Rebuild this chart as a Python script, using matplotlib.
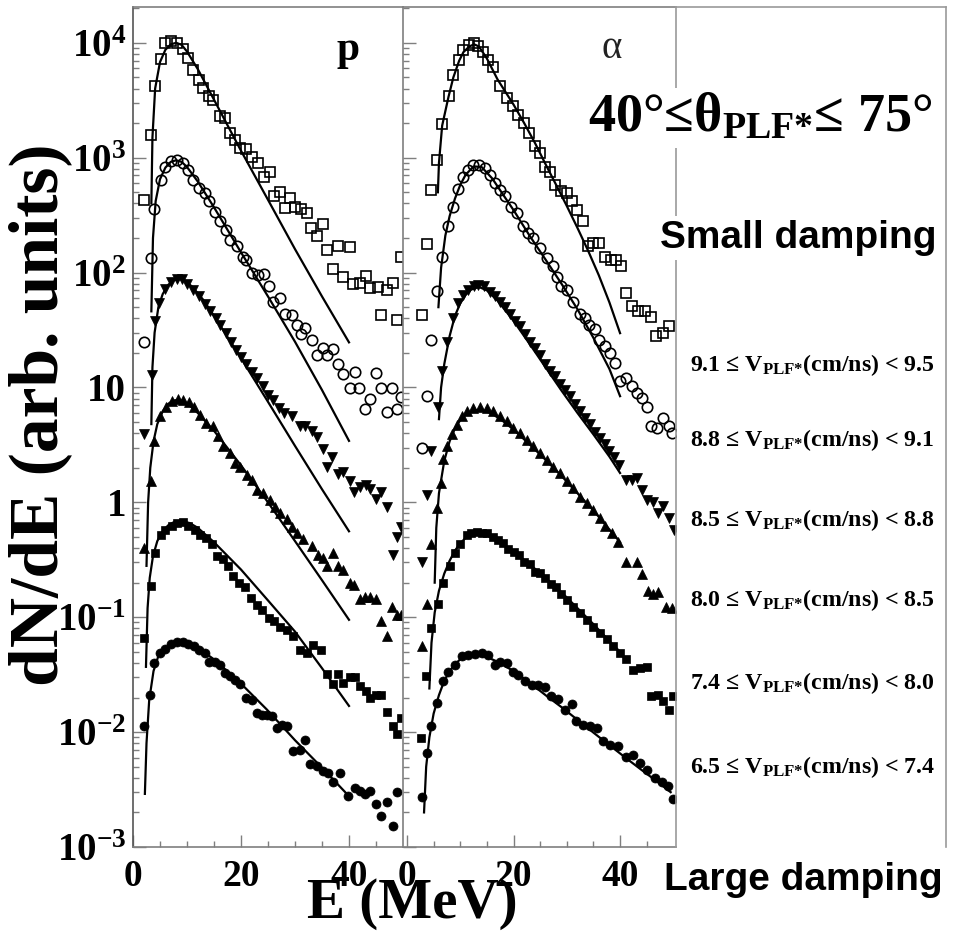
import numpy as np
import matplotlib
matplotlib.use('Agg')
import matplotlib.pyplot as plt
from matplotlib.ticker import FixedLocator, FixedFormatter, NullFormatter

plt.rcParams['font.family'] = ['Liberation Serif', 'DejaVu Serif']
plt.rcParams['font.weight'] = 'bold'
plt.rcParams['mathtext.fontset'] = 'custom'
plt.rcParams['mathtext.rm'] = 'Liberation Serif:bold'
plt.rcParams['mathtext.bf'] = 'Liberation Serif:bold'
plt.rcParams['mathtext.it'] = 'Liberation Serif:italic:bold'

# ---------------- protons (left panel) ----------------
p_sq_E = [2.0, 3.3, 4.1, 5.2, 5.9, 7.0, 8.1, 9.2, 10.2, 11.2, 12.3, 13.0, 14.1, 14.9, 16.1, 17.0, 18.0, 18.9, 19.8, 21.0,
          22.1, 23.2, 24.3, 25.4, 26.1, 27.2, 28.1, 29.1, 30.0, 31.1, 32.2, 33.0, 34.0, 35.1, 35.9, 37.0, 38.0, 38.9,
          40.2, 40.8, 42.0, 43.2, 43.9, 45.4, 45.9, 47.0, 48.1, 48.9, 49.6]
p_sq_y = [430, 1580, 4230, 7220, 9900, 10300, 10000, 8820, 7360, 5820, 4760, 4030, 3410, 3190, 2290, 2210, 1640, 1430,
          1210, 1180, 1020, 900, 686, 758, 460, 498, 364, 445, 376, 357, 330, 245, 208, 266, 158, 108, 171, 91, 167, 79,
          81, 93, 73, 75, 43, 70, 81, 38.5, 137]

p_ci_E = [2.0, 3.3, 3.9, 5.2, 6.0, 7.0, 8.1, 9.2, 10.2, 11.2, 12.3, 13.3, 14.1, 15.1, 16.1, 17.2, 18.0, 19.3, 20.4, 21.0,
          22.1, 23.2, 24.2, 25.1, 25.9, 27.2, 28.1, 29.4, 30.3, 31.1, 31.9, 33.1, 34.0, 35.1, 36.0, 37.0, 38.0, 38.8,
          40.1, 41.1, 41.9, 43.0, 43.9, 45.0, 45.9, 47.0, 47.9, 48.9, 49.7]
p_ci_y = [25, 134, 357, 643, 838, 940, 960, 897, 785, 643, 544, 492, 416, 340, 279, 236, 193, 169, 138, 129, 100, 96,
          97, 76, 55, 60, 44, 43, 35, 29, 33, 26, 19, 22, 19, 21.5, 16, 13, 9.8, 13.7, 9.8, 6.5, 8.0, 13.3, 9.8, 6.1,
          9.8, 6.5, 8.3]

p_dn_E = [2.0, 3.5, 4.1, 4.9, 6.0, 7.0, 8.1, 9.0, 10.0, 11.2, 12.3, 13.3, 14.3, 15.3, 16.2, 17.2, 18.1, 19.1, 20.0, 21.0,
          22.0, 23.0, 24.0, 25.0, 26.0, 27.0, 28.0, 29.4, 30.9, 31.9, 33.1, 34.0, 35.1, 35.9, 36.8, 38.0, 38.9, 40.1,
          40.9, 42.0, 43.1, 43.9, 45.0, 45.9, 47.0, 48.1, 48.9, 49.7]
p_dn_y = [3.9, 12.9, 38, 54, 72, 82, 88, 88, 80, 70, 62, 53, 46, 40, 35, 30, 25, 21, 18.5, 16, 13.5, 12, 10.3, 8.6, 7.8,
          6.6, 6.0, 5.7, 4.6, 4.6, 4.2, 3.7, 2.9, 2.04, 2.5, 1.78, 1.84, 1.54, 1.23, 1.36, 1.42, 1.31, 1.07, 1.23,
          0.91, 0.35, 0.5, 0.61]

p_up_E = [2.0, 3.3, 3.9, 5.0, 6.1, 7.2, 8.4, 9.3, 10.4, 11.3, 12.4, 13.6, 14.9, 15.8, 16.7, 18.0, 18.9, 19.8, 21.1, 22.0,
          22.9, 24.1, 25.4, 26.3, 27.2, 28.5, 29.4, 30.3, 31.5, 33.1, 34.3, 35.1, 36.0, 37.0, 38.0, 38.9, 40.1, 40.9,
          42.0, 43.0, 43.9, 45.0, 45.9, 47.0, 47.9, 48.9, 49.7]
p_up_y = [0.4, 1.52, 3.4, 5.6, 6.8, 7.6, 7.9, 7.8, 7.5, 6.7, 5.8, 4.9, 4.6, 3.75, 3.07, 2.69, 2.2, 2.05, 1.74, 1.57,
          1.29, 1.2, 1.05, 0.92, 0.81, 0.71, 0.61, 0.54, 0.48, 0.42, 0.35, 0.33, 0.28, 0.36, 0.28, 0.26, 0.197, 0.19,
          0.143, 0.149, 0.149, 0.143, 0.092, 0.069, 0.122, 0.104, 0.104]

p_fsq_E = [2.0, 3.3, 4.1, 5.2, 6.0, 7.2, 8.2, 9.2, 10.2, 11.4, 12.4, 13.5, 14.6, 15.5, 16.6, 17.6, 18.6, 19.7, 20.7,
           21.8, 22.9, 23.8, 25.1, 26.1, 27.2, 28.5, 29.7, 30.9, 32.2, 33.4, 34.9, 36.0, 37.0, 38.0, 38.9, 40.1, 41.1,
           42.0, 43.1, 43.9, 45.0, 45.9, 47.0, 48.1, 48.9, 49.7]
p_fsq_y = [0.066, 0.188, 0.36, 0.52, 0.57, 0.62, 0.66, 0.67, 0.62, 0.57, 0.52, 0.49, 0.43, 0.34, 0.32, 0.28, 0.23, 0.2,
           0.185, 0.147, 0.128, 0.116, 0.098, 0.092, 0.083, 0.078, 0.068, 0.052, 0.049, 0.057, 0.052, 0.032, 0.026,
           0.032, 0.027, 0.030, 0.030, 0.025, 0.023, 0.020, 0.021, 0.021, 0.015, 0.0113, 0.0096, 0.0133]

p_fci_E = [2.0, 3.1, 3.9, 5.0, 5.9, 7.0, 8.1, 9.2, 10.2, 11.3, 12.3, 13.3, 14.1, 15.2, 16.1, 17.0, 18.0, 18.9, 19.8,
           21.0, 22.0, 22.9, 23.8, 24.8, 25.7, 26.6, 27.5, 28.5, 29.7, 30.9, 31.9, 32.8, 34.0, 35.2, 36.2, 37.1, 38.3,
           39.9, 41.1, 42.0, 43.0, 43.9, 45.0, 45.9, 47.0, 48.1, 48.9]
p_fci_y = [0.0113, 0.021, 0.040, 0.049, 0.053, 0.058, 0.0605, 0.0605, 0.058, 0.056, 0.052, 0.049, 0.041, 0.041, 0.0386,
           0.0327, 0.0305, 0.0286, 0.026, 0.0198, 0.0192, 0.0147, 0.0142, 0.0142, 0.0138, 0.0109, 0.0116, 0.0113,
           0.0068, 0.0070, 0.0085, 0.0053, 0.0051, 0.0046, 0.0044, 0.0037, 0.0044, 0.0028, 0.00325, 0.0031, 0.0029,
           0.0031, 0.00236, 0.00185, 0.00245, 0.00153, 0.0030]

# fitted curves, protons
p_fit_sq_E = [3.4, 3.6, 4.1, 5.0, 6.0, 7.0, 8.0, 9.0, 10.0, 12.0, 15.0, 20.0, 25.0, 30.0, 35.0, 40.0]
p_fit_sq_y = [400, 1500, 4000, 6800, 8700, 9700, 10000, 9600, 8400, 5900, 3200, 1150, 430, 160, 62, 24.7]
p_fit_ci_E = [3.4, 3.7, 4.2, 5.0, 6.0, 7.0, 8.0, 9.0, 10.0, 12.0, 15.0, 20.0, 25.0, 30.0, 35.0, 40.0]
p_fit_ci_y = [46, 200, 420, 650, 820, 920, 950, 920, 830, 620, 370, 150, 62, 25, 9.5, 3.43]
p_fit_dn_E = [3.4, 3.6, 4.0, 4.7, 5.5, 6.5, 7.5, 8.5, 9.5, 11.0, 13.0, 15.0, 20.0, 25.0, 30.0, 35.0, 40.0]
p_fit_dn_y = [4.8, 15, 30, 50, 65, 78, 86, 88, 86, 75, 58, 42, 18, 7.5, 3.1, 1.3, 0.56]
p_fit_up_E = [2.5, 2.8, 3.2, 3.8, 4.5, 5.5, 6.5, 7.5, 8.5, 10.0, 12.0, 15.0, 20.0, 25.0, 30.0, 35.0, 40.0]
p_fit_up_y = [0.28, 1.0, 2.0, 3.4, 4.8, 6.2, 7.2, 7.7, 7.8, 7.3, 6.0, 4.2, 2.1, 1.0, 0.46, 0.21, 0.095]
p_fit_fsq_E = [2.4, 2.7, 3.1, 3.7, 4.5, 5.5, 6.5, 7.5, 9.0, 10.5, 12.0, 15.0, 20.0, 25.0, 30.0, 35.0, 40.0]
p_fit_fsq_y = [0.037, 0.12, 0.22, 0.34, 0.46, 0.56, 0.63, 0.67, 0.69, 0.66, 0.6, 0.45, 0.26, 0.14, 0.075, 0.036, 0.0169]
p_fit_fci_E = [2.2, 2.5, 3.0, 3.8, 4.7, 5.9, 7.5, 9.0, 10.5, 12.4, 15.0, 19.8, 24.8, 30.0, 35.0, 40.0]
p_fit_fci_y = [0.0029, 0.008, 0.019, 0.034, 0.046, 0.054, 0.060, 0.061, 0.059, 0.0525, 0.043, 0.027, 0.0157, 0.0085,
               0.0049, 0.00277]

# ---------------- alphas (right panel) ----------------
a_sq_E = [2.75, 3.7, 4.6, 5.7, 6.6, 7.8, 8.7, 9.8, 10.6, 11.7, 12.6, 13.4, 14.3, 15.3, 16.2, 17.4, 18.8, 19.9, 20.9,
          22.0, 22.9, 24.0, 25.0, 25.9, 26.8, 27.8, 29.0, 30.0, 30.9, 32.0, 33.0, 34.0, 35.0, 36.1, 37.1, 38.3, 39.3,
          40.2, 41.2, 42.2, 43.4, 44.7, 45.9, 46.8, 48.1, 49.2]
a_sq_y = [43, 176, 519, 946, 1970, 3410, 5260, 7110, 8700, 9610, 10000, 9420, 8400, 7110, 6220, 4170, 3300, 2830, 2360,
          2020, 1640, 1270, 1100, 838, 758, 581, 508, 492, 416, 352, 284, 169, 181, 181, 138, 129, 129, 113, 66, 51, 46,
          46, 41, 28, 30, 34]

a_ci_E = [2.75, 3.7, 4.6, 5.7, 6.6, 7.7, 8.7, 9.6, 10.6, 11.5, 12.4, 13.5, 14.6, 15.6, 16.5, 17.4, 18.4, 19.6, 20.6,
          21.8, 22.8, 23.7, 25.0, 26.2, 27.4, 28.2, 29.0, 30.0, 31.2, 32.5, 33.4, 34.2, 35.3, 36.1, 37.1, 38.1, 39.0,
          40.0, 41.2, 42.2, 43.2, 44.2, 45.1, 45.9, 47.0, 48.1, 49.2, 49.8]
a_ci_y = [3.0, 8.4, 26, 68.6, 138, 252, 376, 533, 686, 785, 867, 867, 811, 710, 608, 526, 460, 376, 330, 252, 221, 200,
          163, 134, 113, 92, 76, 71, 56, 44, 40, 35, 32, 26, 22.8, 20, 16.3, 11.3, 12.1, 10.2, 8.9, 8.1, 6.8, 4.6, 4.4,
          5.4, 4.6, 4.0]

a_dn_E = [2.75, 3.7, 4.6, 5.9, 6.6, 7.6, 8.6, 9.6, 10.6, 11.5, 12.5, 13.4, 14.5, 15.6, 16.5, 17.4, 18.4, 19.3, 20.3,
          21.2, 22.2, 23.1, 24.0, 25.0, 26.0, 26.8, 27.7, 28.7, 29.6, 30.6, 31.5, 32.5, 33.4, 34.3, 35.3, 36.2, 37.1,
          38.0, 38.9, 39.8, 41.2, 42.2, 43.1, 44.2, 45.1, 46.1, 47.1, 48.1, 49.2, 50.1]
a_dn_y = [0.3, 1.16, 2.8, 6.8, 13.8, 25, 40, 54, 64, 71, 76, 78, 76, 68, 63, 56, 50, 44, 38, 34, 29, 25, 22, 19, 16, 14,
          12.5, 10.8, 9.5, 8.4, 7.2, 6.3, 5.4, 4.8, 4.1, 3.6, 3.2, 2.8, 2.5, 2.1, 1.57, 1.57, 1.64, 1.29, 1.05, 1.01,
          0.81, 0.93, 0.73, 0.57]

a_up_E = [2.75, 3.7, 4.6, 5.6, 6.3, 6.8, 7.6, 8.4, 9.3, 10.3, 11.2, 12.4, 13.7, 15.0, 16.2, 17.4, 18.7, 19.9, 21.2,
          22.5, 23.7, 25.0, 26.2, 27.4, 28.7, 30.0, 31.2, 32.5, 33.7, 35.0, 36.2, 37.1, 38.4, 39.6, 41.2, 43.1, 44.2,
          45.3, 46.2, 47.1, 48.7, 49.7]
a_up_y = [0.056, 0.13, 0.43, 0.89, 1.47, 2.4, 3.07, 3.9, 4.7, 5.6, 6.2, 6.6, 6.8, 6.6, 6.2, 5.6, 5.1, 4.4, 4.0, 3.5,
          3.07, 2.7, 2.35, 2.05, 1.8, 1.52, 1.33, 1.12, 0.99, 0.86, 0.73, 0.62, 0.54, 0.45, 0.3, 0.3, 0.24, 0.17, 0.16,
          0.165, 0.124, 0.12]

a_fsq_E = [2.6, 3.6, 4.6, 5.9, 6.8, 8.1, 9.0, 9.9, 11.2, 12.1, 13.1, 14.0, 15.0, 16.2, 17.0, 18.0, 19.0, 20.0, 21.0,
           22.0, 23.0, 24.0, 25.0, 26.0, 27.0, 28.0, 29.0, 30.0, 31.2, 32.5, 33.7, 35.0, 36.2, 37.5, 38.7, 40.0, 41.2,
           42.5, 43.7, 45.1, 45.9, 47.1, 48.1, 49.2, 50.0]
a_fsq_y = [0.0089, 0.031, 0.08, 0.13, 0.2, 0.28, 0.36, 0.43, 0.52, 0.54, 0.55, 0.54, 0.54, 0.5, 0.47, 0.44, 0.39, 0.37,
           0.35, 0.30, 0.29, 0.25, 0.245, 0.22, 0.195, 0.185, 0.16, 0.14, 0.124, 0.109, 0.095, 0.083, 0.073, 0.064,
           0.056, 0.049, 0.043, 0.035, 0.036, 0.037, 0.0205, 0.021, 0.0185, 0.0157, 0.0205]

a_fci_E = [2.75, 3.7, 4.6, 5.7, 6.7, 7.7, 9.0, 10.3, 11.5, 12.8, 14.0, 15.3, 16.5, 17.4, 18.7, 19.9, 20.9, 22.1, 23.4,
           24.6, 25.9, 27.1, 28.4, 29.6, 30.9, 31.8, 33.1, 34.3, 35.6, 36.8, 38.1, 39.6, 41.2, 42.5, 43.7, 45.0, 46.5,
           47.8, 49.0, 50.0]
a_fci_y = [0.0027, 0.0066, 0.0112, 0.0179, 0.0277, 0.0337, 0.0386, 0.0456, 0.047, 0.048, 0.049, 0.047, 0.0386, 0.041,
           0.040, 0.0337, 0.0317, 0.0277, 0.0258, 0.0258, 0.0245, 0.0205, 0.0195, 0.0157, 0.0177, 0.0124, 0.0116,
           0.0112, 0.0109, 0.0083, 0.0077, 0.0076, 0.0061, 0.0063, 0.0054, 0.0047, 0.0040, 0.0037, 0.0034, 0.0026]

# fitted curves, alphas
a_fit_sq_E = [5.8, 6.0, 6.6, 7.8, 8.7, 9.8, 10.6, 11.7, 12.6, 13.5, 15.0, 17.0, 20.0, 22.0, 24.0, 26.0, 28.0, 30.0,
              32.0, 34.0, 36.0, 38.0, 40.0]
a_fit_sq_y = [500, 900, 1900, 3400, 5000, 7000, 8300, 9300, 9700, 9300, 7300, 4800, 2900, 2000, 1350, 880, 580, 380,
              245, 155, 95, 55, 29.7]
a_fit_ci_E = [5.9, 6.4, 7.2, 8.0, 9.0, 10.0, 11.0, 12.5, 14.0, 16.0, 18.0, 20.0, 23.0, 26.0, 29.0, 32.0, 35.0, 38.0, 40.0]
a_fit_ci_y = [50, 110, 210, 310, 440, 580, 710, 840, 830, 660, 480, 350, 210, 130, 80, 48, 27, 14.5, 8.4]
a_fit_dn_E = [6.0, 6.4, 7.0, 8.0, 9.0, 10.0, 11.0, 12.0, 13.5, 15.0, 17.0, 20.0, 23.0, 26.0, 29.0, 32.0, 35.0, 38.0, 40.0]
a_fit_dn_y = [5.3, 10, 16, 28, 42, 54, 64, 71, 75, 70, 57, 38, 24, 15, 9.4, 6.0, 3.9, 2.5, 1.8]
a_fit_up_E = [5.2, 5.5, 6.0, 7.0, 8.0, 9.0, 10.0, 11.0, 12.5, 14.0, 16.0, 18.0, 20.0, 23.0, 26.0, 29.0, 32.0, 35.0,
              38.0, 40.0]
a_fit_up_y = [0.2, 0.6, 1.2, 2.3, 3.4, 4.4, 5.2, 5.8, 6.3, 6.4, 5.9, 5.1, 4.3, 3.2, 2.35, 1.7, 1.2, 0.85, 0.58, 0.45]
a_fit_fsq_E = [4.2, 4.6, 5.2, 6.0, 7.0, 8.0, 9.0, 10.0, 11.0, 12.5, 14.0, 16.0, 18.0, 20.0, 23.0, 26.0, 29.0, 32.0,
               35.0, 38.0, 40.0]
a_fit_fsq_y = [0.024, 0.06, 0.11, 0.17, 0.24, 0.31, 0.38, 0.44, 0.49, 0.53, 0.53, 0.49, 0.43, 0.37, 0.29, 0.22, 0.165,
               0.12, 0.087, 0.062, 0.05]
a_fit_fci_E = [3.2, 3.6, 4.2, 5.0, 6.0, 7.0, 8.0, 9.0, 10.0, 11.5, 13.0, 15.0, 17.0, 20.0, 23.0, 26.0, 29.0, 32.0,
               35.0, 38.0, 41.0, 44.0, 47.0, 49.5]
a_fit_fci_y = [0.002, 0.005, 0.009, 0.0145, 0.021, 0.028, 0.034, 0.039, 0.043, 0.046, 0.047, 0.045, 0.041, 0.034,
               0.027, 0.021, 0.0165, 0.0128, 0.0099, 0.0077, 0.006, 0.0047, 0.0037, 0.003]

bin_labels = ['9.1', '8.8', '8.5', '8.0', '7.4', '6.5']
bin_upper = ['9.5', '9.1', '8.8', '8.5', '8.0', '7.4']

y_ticks = [1e-3, 1e-2, 1e-1, 1, 10, 1e2, 1e3, 1e4]
y_ticklabels = [r'$\mathbf{10^{-3}}$', r'$\mathbf{10^{-2}}$', r'$\mathbf{10^{-1}}$', '1', '10',
                r'$\mathbf{10^{2}}$', r'$\mathbf{10^{3}}$', r'$\mathbf{10^{4}}$']

GRAY = '#7f7f7f'

styles = [dict(marker='s', ms=7.5, mfc='none', mec='k', mew=1.2),
          dict(marker='o', ms=7.5, mfc='none', mec='k', mew=1.2),
          dict(marker='v', ms=6.5, mfc='k', mec='k', mew=0.5),
          dict(marker='^', ms=6.5, mfc='k', mec='k', mew=0.5),
          dict(marker='s', ms=6.0, mfc='k', mec='k', mew=0.5),
          dict(marker='o', ms=6.5, mfc='k', mec='k', mew=0.5)]


def setup_axis(ax, xlim, show_ylabels):
	ax.set_yscale('log')
	ax.set_ylim(1e-3, 2.05e4)
	ax.set_xlim(*xlim)
	ax.yaxis.set_major_locator(FixedLocator(y_ticks))
	minors = [m * 10.0 ** k for k in range(-3, 5) for m in range(2, 10)]
	ax.yaxis.set_minor_locator(FixedLocator(minors))
	if show_ylabels:
		ax.yaxis.set_major_formatter(FixedFormatter(y_ticklabels))
	else:
		ax.yaxis.set_major_formatter(NullFormatter())
	ax.yaxis.set_minor_formatter(NullFormatter())
	ax.xaxis.set_major_locator(FixedLocator([0, 20, 40]))
	ax.xaxis.set_minor_locator(FixedLocator([5, 10, 15, 25, 30, 35, 45]))
	ax.tick_params(which='both', direction='in', color=GRAY, width=1.0,
	               top=False, right=False)
	ax.tick_params(which='major', length=9)
	ax.tick_params(which='minor', length=4.5)
	ax.tick_params(axis='y', which='major', labelsize=28, pad=5)
	ax.tick_params(axis='x', which='major', labelsize=27, pad=9)
	for lab in ax.get_xticklabels() + ax.get_yticklabels():
		lab.set_fontweight('bold')
	for s in ['top', 'bottom', 'left', 'right']:
		ax.spines[s].set_color(GRAY)
		ax.spines[s].set_linewidth(1.2)
	ax.spines['right'].set_visible(False)


def draw_panel(ax, series, fits):
	for (E, y), st in zip(series, styles):
		ax.plot(E, y, ls='none', zorder=3, **st)
	for E, y in fits:
		ax.plot(E, y, color='k', lw=1.6, zorder=2)


fig = plt.figure(figsize=(9.57, 9.32), dpi=100)
W, H = 957.0, 932.0
bottom = 1 - 847 / H
height = 840 / H

ax1 = fig.add_axes([133 / W, bottom, 270 / W, height])
ax2 = fig.add_axes([403 / W, bottom, 273 / W, height])
ax3 = fig.add_axes([676 / W, bottom, 270 / W, height])

setup_axis(ax1, (0, 50), True)
setup_axis(ax2, (-0.75, 50.5), False)
ax1.spines['left'].set_color('#555555')

draw_panel(ax1,
           [(p_sq_E, p_sq_y), (p_ci_E, p_ci_y), (p_dn_E, p_dn_y),
            (p_up_E, p_up_y), (p_fsq_E, p_fsq_y), (p_fci_E, p_fci_y)],
           [(p_fit_sq_E, p_fit_sq_y), (p_fit_ci_E, p_fit_ci_y), (p_fit_dn_E, p_fit_dn_y),
            (p_fit_up_E, p_fit_up_y), (p_fit_fsq_E, p_fit_fsq_y), (p_fit_fci_E, p_fit_fci_y)])
draw_panel(ax2,
           [(a_sq_E, a_sq_y), (a_ci_E, a_ci_y), (a_dn_E, a_dn_y),
            (a_up_E, a_up_y), (a_fsq_E, a_fsq_y), (a_fci_E, a_fci_y)],
           [(a_fit_sq_E, a_fit_sq_y), (a_fit_ci_E, a_fit_ci_y), (a_fit_dn_E, a_fit_dn_y),
            (a_fit_up_E, a_fit_up_y), (a_fit_fsq_E, a_fit_fsq_y), (a_fit_fci_E, a_fit_fci_y)])

# legend box panel: frame only
ax3.set_xticks([])
ax3.set_yticks([])
for s in ['top', 'left', 'right']:
	ax3.spines[s].set_color('#9a9a9a')
	ax3.spines[s].set_linewidth(1.2)
ax3.spines['bottom'].set_visible(False)
ax3.patch.set_alpha(0)

ax1.text(0.796, 0.949, 'p', transform=ax1.transAxes, ha='center', va='center',
         fontsize=30, fontweight='bold')
ax2.text(0.766, 0.951, 'α', transform=ax2.transAxes, ha='center', va='center',
         fontsize=28, fontweight='normal', color='#222222')

white = dict(facecolor='white', edgecolor='none', pad=3)

fig.text(588 / W, 1 - 118 / H, r'40°≤θ$_{\mathbf{PLF}{*}}$≤ 75°', ha='left', va='center',
         fontsize=39, fontweight='bold', bbox=white)
fig.text(660 / W, 1 - 238 / H, 'Small damping', ha='left', va='center',
         fontsize=28, fontweight='bold', family='Liberation Sans', bbox=white)
fig.text(664 / W, 1 - 880 / H, 'Large damping', ha='left', va='center',
         fontsize=28, fontweight='bold', family='Liberation Sans', bbox=white)

label_y = [365, 440, 520, 600, 683, 767]
for lo, hi, yy in zip(bin_labels, bin_upper, label_y):
	fig.text(690 / W, 1 - yy / H, lo + r' ≤ V$_{\mathbf{PLF}{*}}$(cm/ns) < ' + hi,
	         ha='left', va='center', fontsize=17.2, fontweight='bold')

fig.text(412 / W, 1 - 904 / H, 'E (MeV)', ha='center', va='center',
         fontsize=41, fontweight='bold')
fig.text(40 / W, 1 - 415 / H, 'dN/dE (arb. units)', ha='center', va='center',
         rotation=90, fontsize=50, fontweight='bold')

plt.savefig('out.png', dpi=100)
plt.close()
